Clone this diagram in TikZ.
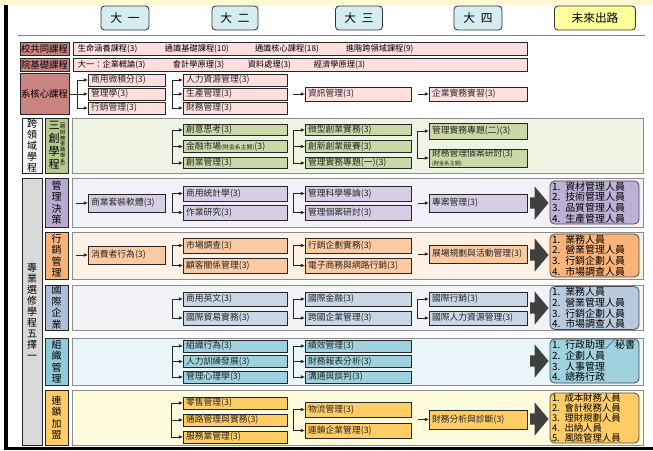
\documentclass[tikz,border=0pt]{standalone}
\usepackage{fontspec}
\setmainfont{Noto Sans CJK TC}
\usepackage{xcolor}
\usetikzlibrary{shapes.arrows, arrows.meta, positioning}

\definecolor{hdrblue}{HTML}{D5ECF2}
\definecolor{futyel}{HTML}{FFFF9C}
\definecolor{rowred}{HTML}{C98380}
\definecolor{rowpink}{HTML}{FFDEDE}
\definecolor{grlab}{HTML}{B5C98E}
\definecolor{grbox}{HTML}{C9D8A6}
\definecolor{grpanel}{HTML}{EFF3E3}
\definecolor{pulab}{HTML}{B7ACD0}
\definecolor{pubox}{HTML}{D6CEE5}
\definecolor{pupanel}{HTML}{F3F1F7}
\definecolor{puout}{HTML}{BDB2D6}
\definecolor{orlab}{HTML}{F6B27A}
\definecolor{orbox}{HTML}{FCCAA2}
\definecolor{orpanel}{HTML}{FDF0E5}
\definecolor{orout}{HTML}{F9B47A}
\definecolor{bllab}{HTML}{ADC0DA}
\definecolor{blbox}{HTML}{C8D6E6}
\definecolor{blpanel}{HTML}{F1F3F7}
\definecolor{blout}{HTML}{B9CADF}
\definecolor{cylab}{HTML}{8FCAD8}
\definecolor{cybox}{HTML}{9FD2DE}
\definecolor{cypanel}{HTML}{EAF6F9}
\definecolor{yelab}{HTML}{FFCB66}
\definecolor{yebox}{HTML}{FFCC66}
\definecolor{yepanel}{HTML}{FFFBDD}
\definecolor{biggray}{HTML}{D9D9D9}
\definecolor{topband}{HTML}{FFFAD2}

\begin{document}
\begin{tikzpicture}[x=0.03cm, y=-0.03cm, >={Latex[length=3.5pt,width=3.2pt]},
    hdr/.style={draw=black!80, line width=0.7pt, rounded corners=3pt, minimum height=0.72cm, inner sep=0pt, font=\fontsize{10}{12}\selectfont},
    rowlab/.style={draw=black!85, line width=0.7pt, fill=rowred, minimum width=1.47cm, inner sep=0pt, font=\fontsize{8}{9}\selectfont},
    rowbox/.style={draw=black!85, line width=0.7pt, fill=rowpink, minimum height=0.39cm, text width=13.32cm, inner xsep=0.15cm, inner ysep=0pt, align=left, font=\fontsize{7}{8}\selectfont},
    panel/.style={draw=black!45, line width=0.8pt, minimum width=17.13cm, inner sep=0pt},
    vlab/.style={draw=black!85, line width=0.7pt, minimum width=0.69cm, text width=0.5cm, inner sep=0pt, align=center, font=\fontsize{8.5}{9.8}\selectfont},
    biglab/.style={draw=black!85, line width=0.7pt, minimum width=0.6cm, text width=0.45cm, inner sep=0pt, align=center, font=\fontsize{8.5}{9.4}\selectfont},
    cbox/.style={draw=black!85, line width=0.7pt, anchor=west, inner xsep=0.08cm, inner ysep=0pt, align=left, text=black!85, font=\fontsize{7.5}{8.5}\selectfont},
    wa/.style={text width=2.15cm},
    wb/.style={text width=2.96cm},
    wc/.style={text width=3.02cm},
    wd/.style={text width=2.78cm},
    outbox/.style={draw=black!70, line width=0.7pt, rounded corners=4pt, minimum width=2.67cm, text width=2.55cm, inner xsep=0.06cm, inner ysep=0.02cm, align=left, font=\fontsize{8.5}{9.2}\selectfont},
    bigarrow/.style={single arrow, fill=black!75, anchor=tail, inner sep=0pt, text height=0.33cm, text depth=0pt, minimum height=0.55cm, minimum width=0.99cm, single arrow head extend=0.33cm, single arrow tip angle=100},
    link/.style={draw=black!85, line width=0.8pt}
]
    \useasboundingbox (0,0) rectangle (653,450);
    \fill[topband] (0,0) rectangle (653,5);
    \fill[black] (4,5) rectangle (8,450);
    \fill[black] (4,447) rectangle (653,450);

    % Year headings
    \node[hdr, fill=hdrblue, minimum width=1.44cm] (y1) at (125,18) {大\enspace 一};
    \node[hdr, fill=hdrblue, minimum width=1.38cm] (y2) at (235,18) {大\enspace 二};
    \node[hdr, fill=hdrblue, minimum width=1.41cm] (y3) at (359,18) {大\enspace 三};
    \node[hdr, fill=hdrblue, minimum width=1.44cm] (y4) at (478,18) {大\enspace 四};
    \node[hdr, fill=futyel, minimum width=2.43cm] (fut) at (595,18) {未來出路};
    \draw[black!50, line width=0.8pt] (18,35) -- (645,35);

    % Common courses
    \node[rowlab, minimum height=0.39cm] (xg) at (44.5,48.5) {校共同課程};
    \node[rowbox] (xgc) at (300,48.5) {\makebox[2.61cm][l]{生命涵養課程(3)}\makebox[2.7cm][l]{通識基礎課程(10)}\makebox[2.73cm][l]{通識核心課程(18)}進階跨領域課程(9)};
    \node[rowlab, minimum height=0.39cm] (yj) at (44.5,64.5) {院基礎課程};
    \node[rowbox] (yjc) at (300,64.5) {\makebox[2.85cm][l]{大一：企業概論(3)}\makebox[2.25cm][l]{會計學原理(3)}\makebox[1.98cm][l]{資料處理(3)}經濟學原理(3)};

    % Department core
    \node[rowlab, minimum height=1.23cm] (xk) at (44.5,94) {系核心課程};
    \coordinate (xk0) at (77,94);
    \node[cbox, wa, fill=rowpink, minimum height=0.36cm] (k11) at (88,80) {商用微積分(3)};
    \node[cbox, wa, fill=rowpink, minimum height=0.36cm] (k12) at (88,94) {管理學(3)};
    \node[cbox, wa, fill=rowpink, minimum height=0.36cm] (k13) at (88,108) {行銷管理(3)};
    \coordinate (xk1) at (172,94);
    \node[cbox, wb, fill=rowpink, minimum height=0.36cm] (k21) at (183,80) {人力資源管理(3)};
    \node[cbox, wb, fill=rowpink, minimum height=0.36cm] (k22) at (183,94) {生產管理(3)};
    \node[cbox, wb, fill=rowpink, minimum height=0.36cm] (k23) at (183,108) {財務管理(3)};
    \coordinate (xk2) at (293,94);
    \node[cbox, wc, fill=rowpink, minimum height=0.42cm] (k3) at (305,94) {資訊管理(3)};
    \coordinate (xk3) at (418,94);
    \node[cbox, wd, fill=rowpink, minimum height=0.42cm] (k4) at (429,94) {企業實務實習(3)};

    \draw[link] (xk) -- (xk0);
    \draw[link, ->] (xk0) |- (k11);
    \draw[link, ->] (xk0) |- (k12);
    \draw[link, ->] (xk0) |- (k13);
    \draw[link, ->] (xk1) |- (k21);
    \draw[link, ->] (xk1) |- (k22);
    \draw[link, ->] (xk1) |- (k23);
    \draw[link, ->] (xk2) -- (k3);
    \draw[link, ->] (xk3) -- (k4);

    % Cross-field programme
    \node[panel, fill=grpanel, minimum height=1.65cm] (pk) at (357.5,145.5) {};
    \node[biglab, fill=black!4, minimum height=1.65cm] (kly) at (32,145.5) {跨\\領\\域\\學\\程};
    \node[vlab, fill=grlab, minimum height=1.65cm] (sc) at (56.5,145.5) {\parbox[c]{0.36cm}{\centering\fontsize{9.5}{11}\selectfont 三\\創\\學\\程}\parbox[c]{0.16cm}{\centering\fontsize{4.5}{4.9}\selectfont ︵\\跨\\財\\務\\金\\融\\學\\系\\︶}};
    \coordinate (sk1) at (172,146.5);
    \node[cbox, wb, fill=grbox, minimum height=0.35cm] (c21) at (183,130) {創意思考(3)};
    \node[cbox, wb, fill=grbox, minimum height=0.35cm] (c22) at (183,146.5) {金融市場{\fontsize{5}{6}\selectfont(財金系主開)}(3)};
    \node[cbox, wb, fill=grbox, minimum height=0.35cm] (c23) at (183,163) {創業管理(3)};
    \coordinate (sk2) at (293,146.5);
    \node[cbox, wc, fill=grbox, minimum height=0.35cm] (c31) at (305,130) {微型創業實務(3)};
    \node[cbox, wc, fill=grbox, minimum height=0.35cm] (c32) at (305,146.5) {創新創業競賽(3)};
    \node[cbox, wc, fill=grbox, minimum height=0.35cm] (c33) at (305,163) {管理實務專題(一)(3)};
    \coordinate (sk3) at (417,144.5);
    \node[cbox, wd, fill=grbox, minimum height=0.48cm] (c41) at (429,131) {管理實務專題(二)(3)};
    \node[cbox, wd, fill=grbox, minimum height=0.54cm] (c42) at (429,158) {財務管理個案研討(3)\\[-1pt]{\fontsize{4.5}{5}\selectfont(財金系主開)}};

    \draw[link, ->] (sk1) |- (c21);
    \draw[link, ->] (sk1) |- (c22);
    \draw[link, ->] (sk1) |- (c23);
    \draw[link, ->] (sk2) |- (c31);
    \draw[link, ->] (sk2) |- (c32);
    \draw[link, ->] (sk2) |- (c33);
    \draw[link, ->] (sk3) |- (c41);
    \draw[link, ->] (sk3) |- (c42);

    % Elective programmes
    \node[biglab, fill=biggray, minimum height=8.01cm] (zy) at (32,311.5) {專\\業\\選\\修\\學\\程\\五\\擇\\一};

    % Management decision
    \node[panel, fill=pupanel, minimum height=1.47cm] (pm) at (357.5,202.5) {};
    \node[vlab, fill=pulab, minimum height=1.47cm] (mg) at (56.5,202.5) {管\\理\\決\\策};
    \coordinate (sm0) at (76,203);
    \node[cbox, wa, fill=pubox, minimum height=0.54cm] (m1) at (88,203) {商業套裝軟體(3)};
    \coordinate (sm1) at (172,203);
    \node[cbox, wb, fill=pubox, minimum height=0.45cm] (m21) at (183,193.5) {商用統計學(3)};
    \node[cbox, wb, fill=pubox, minimum height=0.45cm] (m22) at (183,212.5) {作業研究(3)};
    \coordinate (sm2) at (293,203);
    \node[cbox, wc, fill=pubox, minimum height=0.45cm] (m31) at (305,193.5) {管理科學導論(3)};
    \node[cbox, wc, fill=pubox, minimum height=0.45cm] (m32) at (305,212.5) {管理個案研討(3)};
    \coordinate (sm3) at (418,203);
    \node[cbox, wd, fill=pubox, minimum height=0.54cm] (m4) at (429,203) {專案管理(3)};
    \node[bigarrow] (am) at (530,203) {};
    \node[outbox, fill=puout, minimum height=1.29cm] (om) at (594.5,202.5) {1. 資材管理人員\\2. 技術管理人員\\3. 品質管理人員\\4. 生產管理人員};

    \draw[link, ->] (sm0) -- (m1);
    \draw[link, ->] (sm1) |- (m21);
    \draw[link, ->] (sm1) |- (m22);
    \draw[link, ->] (sm2) |- (m31);
    \draw[link, ->] (sm2) |- (m32);
    \draw[link, ->] (sm3) -- (m4);

    % Marketing management
    \node[panel, fill=orpanel, minimum height=1.41cm] (ps) at (357.5,255.5) {};
    \node[vlab, fill=orlab, minimum height=1.41cm] (sg) at (56.5,255.5) {行\\銷\\管\\理};
    \coordinate (ss0) at (76,255);
    \node[cbox, wa, fill=orbox, minimum height=0.54cm] (s1) at (88,255) {消費者行為(3)};
    \coordinate (ss1) at (172,255.5);
    \node[cbox, wb, fill=orbox, minimum height=0.45cm] (s21) at (183,245.5) {市場調查(3)};
    \node[cbox, wb, fill=orbox, minimum height=0.45cm] (s22) at (183,265.5) {顧客關係管理(3)};
    \coordinate (ss2) at (293,255.5);
    \node[cbox, wc, fill=orbox, minimum height=0.45cm] (s31) at (305,245.5) {行銷企劃實務(3)};
    \node[cbox, wc, fill=orbox, minimum height=0.45cm] (s32) at (305,265.5) {電子商務與網路行銷(3)};
    \coordinate (ss3) at (418,254);
    \node[cbox, wd, fill=orbox, minimum height=0.54cm] (s4) at (429,254) {展場規劃與活動管理(3)};
    \node[bigarrow] (as) at (530,255) {};
    \node[outbox, fill=orout, minimum height=1.23cm] (os) at (594.5,255.5) {1. 業務人員\\2. 營業管理人員\\3. 行銷企劃人員\\4. 市場調查人員};

    \draw[link, ->] (ss0) -- (s1);
    \draw[link, ->] (ss1) |- (s21);
    \draw[link, ->] (ss1) |- (s22);
    \draw[link, ->] (ss2) |- (s31);
    \draw[link, ->] (ss2) |- (s32);
    \draw[link, ->] (ss3) -- (s4);

    % International business
    \node[panel, fill=blpanel, minimum height=1.35cm] (pi) at (357.5,307.5) {};
    \node[vlab, fill=bllab, minimum height=1.35cm] (ig) at (56.5,307.5) {國\\際\\企\\業};
    \coordinate (si1) at (172,308.5);
    \node[cbox, wb, fill=blbox, minimum height=0.42cm] (i21) at (183,299) {商用英文(3)};
    \node[cbox, wb, fill=blbox, minimum height=0.42cm] (i22) at (183,318) {國際貿易實務(3)};
    \coordinate (si2) at (293,308.5);
    \node[cbox, wc, fill=blbox, minimum height=0.42cm] (i31) at (305,299) {國際金融(3)};
    \node[cbox, wc, fill=blbox, minimum height=0.42cm] (i32) at (305,318) {跨國企業管理(3)};
    \coordinate (si3) at (417,308.5);
    \node[cbox, wd, fill=blbox, minimum height=0.42cm] (i41) at (429,299) {國際行銷(3)};
    \node[cbox, wd, fill=blbox, minimum height=0.42cm] (i42) at (429,318) {國際人力資源管理(3)};
    \node[bigarrow] (ai) at (530,308) {};
    \node[outbox, fill=blout, minimum height=1.26cm] (oi) at (594.5,308) {1. 業務人員\\2. 營業管理人員\\3. 行銷企劃人員\\4. 市場調查人員};

    \draw[link, ->] (si1) |- (i21);
    \draw[link, ->] (si1) |- (i22);
    \draw[link, ->] (si2) |- (i31);
    \draw[link, ->] (si2) |- (i32);
    \draw[link, ->] (si3) |- (i41);
    \draw[link, ->] (si3) |- (i42);

    % Organisation management
    \node[panel, fill=cypanel, minimum height=1.41cm] (po) at (357.5,361.5) {};
    \node[vlab, fill=cylab, minimum height=1.41cm] (og) at (56.5,361.5) {組\\織\\管\\理};
    \coordinate (so1) at (172,361.5);
    \node[cbox, wb, fill=cybox, minimum height=0.36cm] (o21) at (183,346) {組織行為(3)};
    \node[cbox, wb, fill=cybox, minimum height=0.36cm] (o22) at (183,361.5) {人力訓練發展(3)};
    \node[cbox, wb, fill=cybox, minimum height=0.36cm] (o23) at (183,377) {管理心理學(3)};
    \coordinate (so2) at (293,361.5);
    \node[cbox, wc, fill=cybox, minimum height=0.36cm] (o31) at (305,346) {績效管理(3)};
    \node[cbox, wc, fill=cybox, minimum height=0.36cm] (o32) at (305,361.5) {財務報表分析(3)};
    \node[cbox, wc, fill=cybox, minimum height=0.36cm] (o33) at (305,377) {溝通與談判(3)};
    \node[bigarrow] (ao) at (530,361) {};
    \node[outbox, fill=cybox, minimum height=1.32cm] (oo) at (594.5,361) {1. 行政助理／秘書\\2. 企劃人員\\3. 人事管理\\4. 總務行政};

    \draw[link, ->] (so1) |- (o21);
    \draw[link, ->] (so1) |- (o22);
    \draw[link, ->] (so1) |- (o23);
    \draw[link, ->] (so2) |- (o31);
    \draw[link, ->] (so2) |- (o32);
    \draw[link, ->] (so2) |- (o33);

    % Chain franchising
    \node[panel, fill=yepanel, minimum height=1.65cm] (pl) at (357.5,417.5) {};
    \node[vlab, fill=yelab, minimum height=1.65cm] (lg) at (56.5,417.5) {連\\鎖\\加\\盟};
    \coordinate (sl1) at (171,420);
    \node[cbox, wb, fill=yebox, minimum height=0.36cm] (l21) at (183,403) {零售管理(3)};
    \node[cbox, wb, fill=yebox, minimum height=0.36cm] (l22) at (183,420) {通路管理與實務(3)};
    \node[cbox, wb, fill=yebox, minimum height=0.36cm] (l23) at (183,437) {服務業管理(3)};
    \coordinate (sl2) at (293,420);
    \node[cbox, wc, fill=yebox, minimum height=0.45cm] (l31) at (305,409.5) {物流管理(3)};
    \node[cbox, wc, fill=yebox, minimum height=0.45cm] (l32) at (305,430.5) {連鎖企業管理(3)};
    \coordinate (sl3) at (418,419.5);
    \node[cbox, wd, fill=yebox, minimum height=0.57cm] (l4) at (429,419.5) {財務分析與診斷(3)};
    \node[bigarrow] (al) at (530,419) {};
    \node[outbox, fill=yebox, minimum height=1.5cm, font=\fontsize{8}{8.5}\selectfont] (ol) at (594.5,418) {1. 成本財務人員\\2. 會計稅務人員\\3. 理財規劃人員\\4. 出納人員\\5. 風險管理人員};

    \draw[link, ->] (sl1) |- (l21);
    \draw[link, ->] (sl1) |- (l22);
    \draw[link, ->] (sl1) |- (l23);
    \draw[link, ->] (sl2) |- (l31);
    \draw[link, ->] (sl2) |- (l32);
    \draw[link, ->] (sl3) -- (l4);
\end{tikzpicture}
\end{document}
